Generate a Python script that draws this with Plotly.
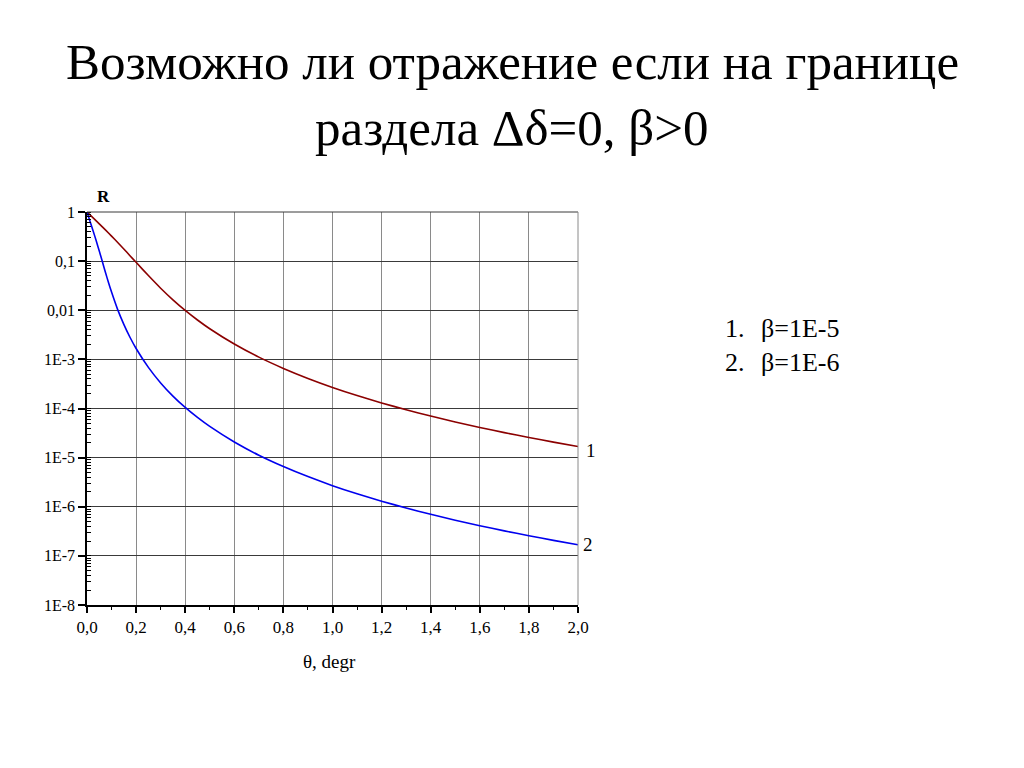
import plotly.graph_objects as go

# --- data ---
theta1 = [0, 0.025, 0.05, 0.075, 0.1, 0.125, 0.15, 0.175, 0.2, 0.25, 0.3, 0.35, 0.4, 0.45,
          0.5, 0.6, 0.7, 0.8, 0.9, 1.0, 1.1, 1.2, 1.3, 1.4, 1.5, 1.6, 1.7, 1.8, 1.9, 2.0]
r1 = [1.0, 0.760, 0.574, 0.433, 0.323, 0.240, 0.177, 0.129, 0.0946, 0.0508, 0.0281, 0.0163,
      0.00992, 0.00633, 0.00420, 0.00205, 0.00111, 6.55e-4, 4.10e-4, 2.69e-4, 1.84e-4,
      1.30e-4, 9.43e-5, 7.01e-5, 5.32e-5, 4.11e-5, 3.23e-5, 2.57e-5, 2.07e-5, 1.68e-5]

theta2 = [0, 0.0125, 0.025, 0.0375, 0.05, 0.0625, 0.075, 0.0875, 0.1, 0.125, 0.15, 0.175,
          0.2, 0.25, 0.3, 0.35, 0.4, 0.45, 0.5, 0.6, 0.7, 0.8, 0.9, 1.0, 1.1, 1.2, 1.3,
          1.4, 1.5, 1.6, 1.7, 1.8, 1.9, 2.0]
r2 = [1.0, 0.644, 0.412, 0.259, 0.160, 0.0979, 0.0594, 0.0367, 0.0234, 0.0103, 0.00516,
      0.00282, 1.667e-3, 6.87e-4, 3.32e-4, 1.79e-4, 1.05e-4, 6.57e-5, 4.31e-5, 2.08e-5,
      1.12e-5, 6.58e-6, 4.11e-6, 2.69e-6, 1.84e-6, 1.30e-6, 9.43e-7, 7.01e-7, 5.32e-7,
      4.11e-7, 3.23e-7, 2.57e-7, 2.07e-7, 1.68e-7]

x_ticks = [0.0, 0.2, 0.4, 0.6, 0.8, 1.0, 1.2, 1.4, 1.6, 1.8, 2.0]
x_ticktext = ["0,0", "0,2", "0,4", "0,6", "0,8", "1,0", "1,2", "1,4", "1,6", "1,8", "2,0"]
y_ticks = [1, 0.1, 0.01, 1e-3, 1e-4, 1e-5, 1e-6, 1e-7, 1e-8]
y_ticktext = ["1", "0,1", "0,01", "1E-3", "1E-4", "1E-5", "1E-6", "1E-7", "1E-8"]

title_line1 = "Возможно ли отражение если на границе"
title_line2 = "раздела Δδ=0, β>0"
legend_items = [("1.", "β=1E-5"), ("2.", "β=1E-6")]

SERIF = "'Times New Roman', 'Liberation Serif', 'DejaVu Serif', serif"

fig = go.Figure()
fig.add_trace(go.Scatter(x=theta1, y=r1, mode="lines",
                         line=dict(color="#8b0000", width=1.6, shape="spline", smoothing=0.6),
                         showlegend=False, hoverinfo="skip"))
fig.add_trace(go.Scatter(x=theta2, y=r2, mode="lines",
                         line=dict(color="#0000ee", width=1.6, shape="spline", smoothing=0.6),
                         showlegend=False, hoverinfo="skip"))

fig.update_layout(
    width=1008, height=752,
    margin=dict(l=79, r=438, t=204, b=155),
    paper_bgcolor="white", plot_bgcolor="white",
    font=dict(family=SERIF, color="black", size=16),
    showlegend=False,
)
fig.update_xaxes(
    range=[0, 2], tickvals=x_ticks, ticktext=x_ticktext,
    showgrid=True, gridcolor="#8a8a8a", gridwidth=1,
    showline=True, linecolor="black", linewidth=1.5,
    ticks="outside", ticklen=6, tickwidth=1.5, tickcolor="black",
    minor=dict(dtick=0.1, ticks="outside", ticklen=3, tickwidth=1, tickcolor="black", showgrid=False),
    tickfont=dict(size=17, family=SERIF), zeroline=False,
)
fig.update_yaxes(
    type="log", range=[-8, 0], tickvals=y_ticks, ticktext=y_ticktext,
    showgrid=True, gridcolor="#3a3a3a", gridwidth=1,
    showline=True, linecolor="black", linewidth=1.5,
    ticks="outside", ticklen=7, tickwidth=1.5, tickcolor="black",
    minor=dict(dtick="D1", ticks="inside", ticklen=4, tickwidth=1, tickcolor="black", showgrid=False),
    tickfont=dict(size=16, family=SERIF), zeroline=False,
)

# frame edges (top & right)
fig.add_shape(type="line", xref="x domain", yref="y domain", x0=0, x1=1, y0=1, y1=1,
              line=dict(color="#3a3a3a", width=1))
fig.add_shape(type="line", xref="x domain", yref="y domain", x0=1, x1=1, y0=0, y1=1,
              line=dict(color="#8a8a8a", width=1))

ann = []
ann.append(dict(text=title_line1, x=0.8656, y=1.3817, xref="paper", yref="paper",
                showarrow=False, font=dict(size=51, family=SERIF), xanchor="center", yanchor="middle"))
ann.append(dict(text=title_line2, x=0.8656, y=1.2137, xref="paper", yref="paper",
                showarrow=False, font=dict(size=51, family=SERIF), xanchor="center", yanchor="middle"))
ann.append(dict(text="<b>R</b>", x=0.0326, y=1.0407, xref="paper", yref="paper",
                showarrow=False, font=dict(size=17, family=SERIF), xanchor="center", yanchor="middle"))
ann.append(dict(text="θ, degr", x=0.4949, y=-0.145, xref="paper", yref="paper",
                showarrow=False, font=dict(size=19, family=SERIF), xanchor="center", yanchor="middle"))
ann.append(dict(text="1", x=1.0265, y=0.394, xref="paper", yref="paper",
                showarrow=False, font=dict(size=19, family=SERIF), xanchor="center", yanchor="middle"))
ann.append(dict(text="2", x=1.0204, y=0.155, xref="paper", yref="paper",
                showarrow=False, font=dict(size=19, family=SERIF), xanchor="center", yanchor="middle"))
for i, (num, lab) in enumerate(legend_items):
    yy = 0.7048 - i * 0.0868
    ann.append(dict(text=num, x=1.296, y=yy, xref="paper", yref="paper",
                    showarrow=False, font=dict(size=26, family=SERIF), xanchor="left", yanchor="middle"))
    ann.append(dict(text=lab, x=1.368, y=yy, xref="paper", yref="paper",
                    showarrow=False, font=dict(size=26, family=SERIF), xanchor="left", yanchor="middle"))
fig.update_layout(annotations=ann)

fig.write_html("out.html")
